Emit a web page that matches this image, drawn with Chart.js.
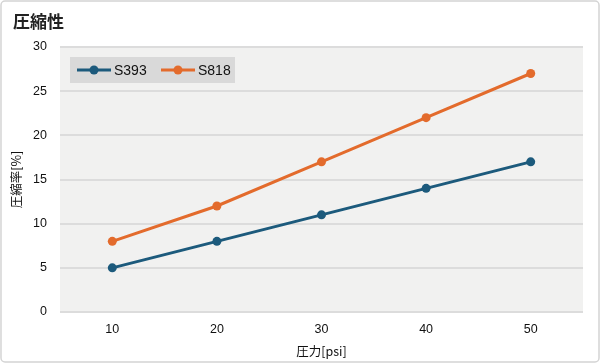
<!DOCTYPE html>
<html>
<head>
<meta charset="utf-8">
<script src="https://cdn.jsdelivr.net/npm/chart.js@4"></script>
<style>
  html,body{margin:0;padding:0;background:#fff;}
  #wrap{width:600px;height:363px;position:relative;}
</style>
</head>
<body>
<div id="wrap"><canvas id="c" width="600" height="363"></canvas></div>
<script>
// ---------------- Dados ----------------
const pressao = ["10","20","30","40","50"];
const s393 = [5, 8, 11, 14, 17];
const s818 = [8, 12, 17, 22, 27];
const yTicks = [0, 5, 10, 15, 20, 25, 30];

const fontBase = "'Liberation Sans', 'Noto Sans CJK JP', sans-serif";
const fontJP = "'Noto Sans CJK JP', 'Liberation Sans', sans-serif";

// moldura, fundo do gráfico, título e legenda
const decor = {
  id: "decor",
  beforeDraw(chart){
    const {ctx, chartArea:a} = chart;
    ctx.save();
    ctx.strokeStyle = "#d4d4d4"; ctx.lineWidth = 1.5;
    ctx.beginPath(); ctx.roundRect(1, 1, 598, 361, 4); ctx.stroke();
    ctx.fillStyle = "#f1f1f0";
    ctx.fillRect(a.left, a.top, a.right - a.left, a.bottom - a.top);
    ctx.fillStyle = "#222";
    ctx.font = "bold 17px " + fontJP;
    ctx.textBaseline = "middle";
    ctx.fillText("圧縮性", 13, 22);
    ctx.restore();
  },
  afterDatasetsDraw(chart){
    const {ctx, chartArea:a} = chart;
    ctx.save();
    ctx.fillStyle = "#d9d9d9";
    ctx.fillRect(a.left + 10, a.top + 10, 165, 26);
    let x = a.left + 17;
    const y = a.top + 23;
    chart.data.datasets.forEach(ds=>{
      ctx.strokeStyle = ds.borderColor; ctx.lineWidth = 3;
      ctx.beginPath(); ctx.moveTo(x, y); ctx.lineTo(x + 34, y); ctx.stroke();
      ctx.fillStyle = ds.borderColor;
      ctx.beginPath(); ctx.arc(x + 17, y, 4.5, 0, Math.PI*2); ctx.fill();
      ctx.fillStyle = "#111";
      ctx.font = "14px " + fontBase;
      ctx.textBaseline = "middle";
      ctx.fillText(ds.label, x + 37, y + 1);
      x += 84;
    });
    ctx.restore();
  }
};

new Chart(document.getElementById("c"), {
  type: "line",
  data: {
    labels: pressao,
    datasets: [
      {label:"S393", data:s393, borderColor:"#1c5a7c", backgroundColor:"#1c5a7c", borderWidth:3, pointRadius:4.5, pointBorderWidth:0, pointHoverRadius:4.5},
      {label:"S818", data:s818, borderColor:"#e36b2c", backgroundColor:"#e36b2c", borderWidth:3, pointRadius:4.5, pointBorderWidth:0, pointHoverRadius:4.5}
    ]
  },
  options: {
    responsive: false,
    animation: false,
    layout: {padding:{top:47, right:17, left:0, bottom:0}},
    plugins: {legend:{display:false}, tooltip:{enabled:false}},
    scales: {
      x: {
        offset: true,
        grid: {display:false, drawTicks:false},
        border: {display:false},
        ticks: {color:"#111", font:{size:12.5, family:fontBase}, padding:10},
        title: {display:true, text:"圧力[psi]", color:"#111", font:{size:12.5, family:fontJP}, padding:{top:2}},
        afterFit(s){ s.height = 51; }
      },
      y: {
        min: 0, max: 30,
        afterBuildTicks(s){ s.ticks = yTicks.map(v=>({value:v})); },
        grid: {color:"#dcdcdc", lineWidth:2, drawTicks:false},
        border: {display:false},
        ticks: {color:"#111", font:{size:12.5, family:fontBase}, padding:13},
        title: {display:true, text:"圧縮率[%]", color:"#111", font:{size:12.5, family:fontJP}, padding:{top:9, bottom:0}},
        afterFit(s){ s.width = 60; }
      }
    }
  },
  plugins: [decor]
});
</script>
</body>
</html>
